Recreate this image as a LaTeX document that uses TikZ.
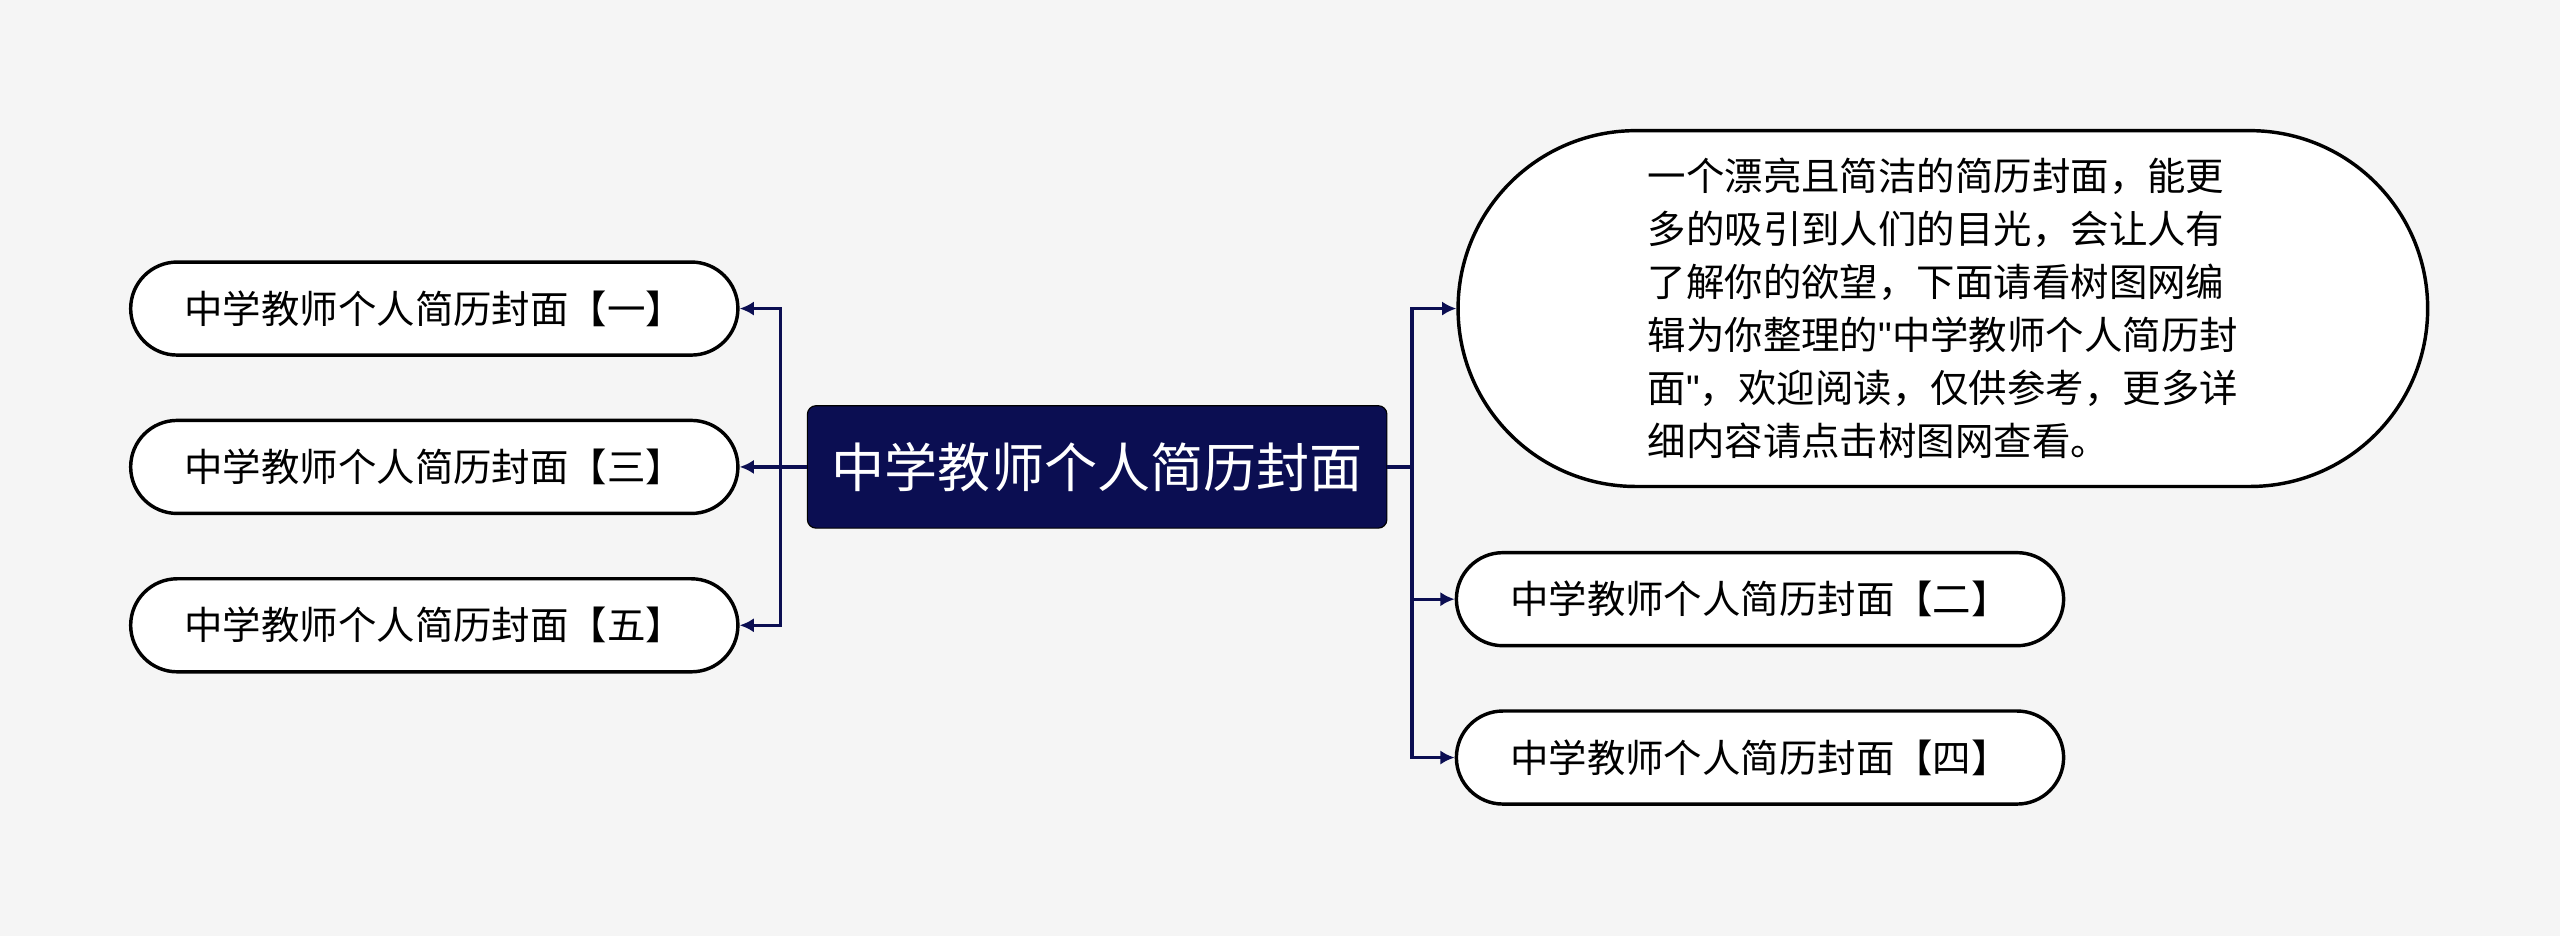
\documentclass[tikz,border=0pt]{standalone}
\usepackage{fontspec}
\setmainfont{Noto Sans CJK SC}
\newfontfamily\latinq{Liberation Sans}
\usetikzlibrary{arrows.meta}
\definecolor{navy}{HTML}{0B0E52}
\definecolor{bg}{HTML}{F5F5F5}
\newcommand{\dq}{{\latinq"}}
\begin{document}
\begin{tikzpicture}[x=0.02cm, y=-0.02cm,
    leaf/.style={draw=black, line width=1.2pt, fill=white, rounded corners=0.57cm,
        minimum width=7.44cm, minimum height=1.14cm, font=\fontsize{13.4}{15}\selectfont},
    link/.style={navy, line width=1.1pt, -{Latex[length=5pt,width=5pt]}}]
    \fill[bg] (0,0) rectangle (1568,573);

    \node[fill=navy, draw=black, rounded corners=3pt, minimum width=7.1cm, minimum height=1.5cm,
        text=white, font=\fontsize{18.5}{20}\selectfont] (root) at (672,286) {中学教师个人简历封面};

    \node[leaf] (l1) at (266,189) {中学教师个人简历封面【一】};
    \node[leaf] (l3) at (266,286) {中学教师个人简历封面【三】};
    \node[leaf] (l5) at (266,383) {中学教师个人简历封面【五】};

    \node[draw=black, line width=1.2pt, fill=white, rounded corners=2.18cm, minimum width=11.88cm,
        minimum height=4.36cm, align=left, font=\fontsize{13.4}{18.5}\selectfont] (desc) at (1190,189)
        {一个漂亮且简洁的简历封面，能更\\多的吸引到人们的目光，会让人有\\了解你的欲望，下面请看树图网编\\辑为你整理的\dq 中学教师个人简历封\\面\dq ，欢迎阅读，仅供参考，更多详\\细内容请点击树图网查看。};
    \node[leaf] (r2) at (1078,367) {中学教师个人简历封面【二】};
    \node[leaf] (r4) at (1078,464) {中学教师个人简历封面【四】};

    % left branches
    \foreach \n in {l1,l3,l5}
        \draw[link] (root.west) -- ++(-16,0) |- (\n.east);
    % right branches
    \foreach \n in {desc,r2,r4}
        \draw[link] (root.east) -- ++(15,0) |- (\n.west);
\end{tikzpicture}
\end{document}
